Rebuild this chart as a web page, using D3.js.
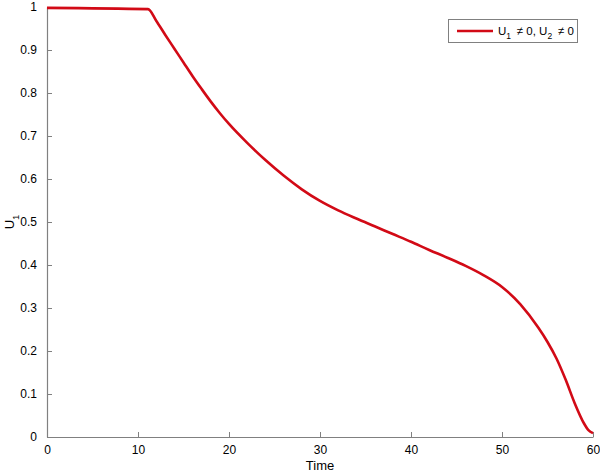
<!DOCTYPE html>
<html><head><meta charset="utf-8">
<script src="https://cdn.jsdelivr.net/npm/d3@7"></script>
<style>
body{margin:0;background:#fff;}
svg{display:block;font-family:"Liberation Sans",Arial,Helvetica,sans-serif;}
</style></head>
<body>
<svg id="chart" width="600" height="472"></svg>
<script>
const timeValues = [0, 11.1, 12, 13, 14, 15, 16, 17, 18, 19, 20, 22, 24, 26, 28, 30, 32, 34, 36, 38, 40, 42, 44, 46, 48, 50, 52, 54, 55, 56, 57, 58, 59, 59.5, 60];
const u1Values  = [0.998, 0.995, 0.968, 0.935, 0.903, 0.871, 0.839, 0.809, 0.780, 0.753, 0.728, 0.684, 0.644, 0.608, 0.576, 0.549, 0.527, 0.508, 0.490, 0.472, 0.454, 0.435, 0.417, 0.398, 0.376, 0.349, 0.309, 0.254, 0.221, 0.182, 0.133, 0.078, 0.032, 0.016, 0.009];
const xTicks = [0, 10, 20, 30, 40, 50, 60];
const yTicks = [0, 0.1, 0.2, 0.3, 0.4, 0.5, 0.6, 0.7, 0.8, 0.9, 1];

const data = timeValues.map((t, i) => ({t, u: u1Values[i]}));
const svg = d3.select("#chart");
const mLeft = 47, mRight = 593, mTop = 7, mBottom = 437;
const x = d3.scaleLinear().domain([0, 60]).range([mLeft, mRight]);
const y = d3.scaleLinear().domain([0, 1]).range([mBottom, mTop]);
const axisColor = "#808080";

const xAxis = svg.append("g").attr("transform", `translate(0,${mBottom})`)
  .call(d3.axisBottom(x).tickValues(xTicks).tickSizeInner(-5).tickSizeOuter(0).tickPadding(8).tickFormat(d3.format("d")));
const yAxis = svg.append("g").attr("transform", `translate(${mLeft},0)`)
  .call(d3.axisLeft(y).tickValues(yTicks).tickSizeInner(-5).tickSizeOuter(0).tickPadding(10).tickFormat(d => d === 0 ? "0" : d === 1 ? "1" : d3.format(".1f")(d)));
[xAxis, yAxis].forEach(g => {
  g.select(".domain").attr("stroke", axisColor).attr("stroke-width", 1.2);
  g.selectAll(".tick line").attr("stroke", axisColor);
  g.selectAll(".tick text").attr("fill", "#000").attr("font-size", 12);
});

svg.append("path").datum(data)
  .attr("fill", "none").attr("stroke", "#d20a16").attr("stroke-width", 2.6)
  .attr("stroke-linejoin", "round")
  .attr("d", d3.line().x(d => x(d.t)).y(d => y(d.u)).curve(d3.curveMonotoneX));

svg.append("text").attr("x", (mLeft + mRight) / 2).attr("y", 470)
  .attr("text-anchor", "middle").attr("font-size", 13).text("Time");

const yl = svg.append("text").attr("transform", `translate(14,${(mTop + mBottom) / 2}) rotate(-90)`)
  .attr("text-anchor", "middle").attr("font-size", 13);
yl.append("tspan").text("U");
yl.append("tspan").attr("dy", 5).attr("font-size", 9.5).text("1");

// legend
const lg = svg.append("g");
lg.append("rect").attr("x", 448.5).attr("y", 19.5).attr("width", 129).attr("height", 23)
  .attr("fill", "#fff").attr("stroke", "#808080").attr("stroke-width", 1);
lg.append("line").attr("x1", 457).attr("x2", 493).attr("y1", 31).attr("y2", 31)
  .attr("stroke", "#d20a16").attr("stroke-width", 2.6);
const lt = lg.append("text").attr("x", 498).attr("y", 35).attr("font-size", 11.5);
lt.append("tspan").text("U");
lt.append("tspan").attr("dy", 4).attr("font-size", 8.5).text("1");
lt.append("tspan").attr("dy", -4).text("\u2002\u2260 0, U");
lt.append("tspan").attr("dy", 4).attr("font-size", 8.5).text("2");
lt.append("tspan").attr("dy", -4).text("\u2002\u2260 0");
</script>
</body></html>
